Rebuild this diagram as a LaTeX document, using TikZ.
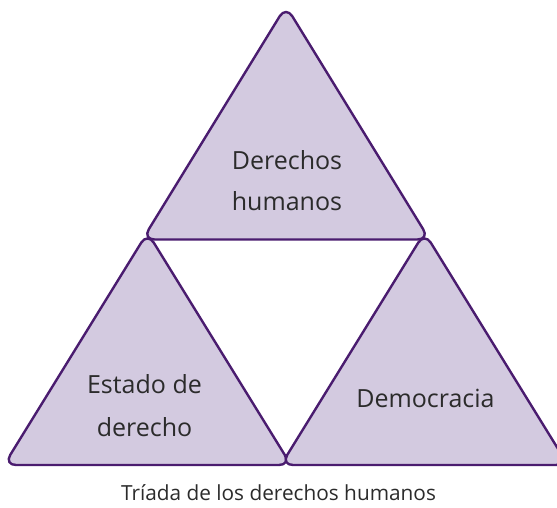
\documentclass[tikz,border=0pt]{standalone}
\usepackage{fontspec}
\setmainfont{Open Sans}
\definecolor{trifill}{HTML}{D3CAE0}
\definecolor{tridraw}{HTML}{4A1C6F}
\definecolor{txt}{HTML}{2B2B2B}
\tikzset{
  tri/.style={fill=trifill, draw=tridraw, line width=2.4pt, rounded corners=12pt, line join=round},
  lbl/.style={text=txt, font=\fontsize{25}{41}\selectfont, anchor=base, inner sep=0pt},
  captxt/.style={text=txt, font=\fontsize{20.8}{24}\selectfont, anchor=base, inner sep=0pt}
}
\begin{document}
\begin{tikzpicture}[x=1pt,y=-1pt]
\useasboundingbox (0,0) rectangle (557,508);
\clip (0,0) rectangle (557,508);
% top
\draw[tri] (286,6) -- (429.5,239.5) -- (142.5,239.5) -- cycle;
% left
\draw[tri] (147.5,232.5) -- (291,465) -- (4,465) -- cycle;
% right
\draw[tri] (424.5,232.5) -- (568,465) -- (281,465) -- cycle;
\node[lbl] (dh1) at (287,169) {Derechos};
\node[lbl] (dh2) at (287,210) {humanos};
\node[lbl] (ed1) at (144.5,393) {Estado de};
\node[lbl] (ed2) at (144.5,436) {derecho};
\node[lbl] (dem) at (425.5,407) {Democracia};
\node[captxt] (caption) at (278.5,500) {Tríada de los derechos humanos};
\end{tikzpicture}
\end{document}
